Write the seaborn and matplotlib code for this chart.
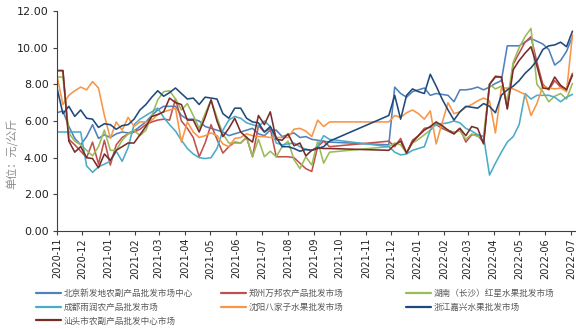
import numpy as np
import pandas as pd
import matplotlib
matplotlib.use("Agg")
import matplotlib.pyplot as plt
import matplotlib.dates as mdates
import seaborn as sns

# ---------------- data ----------------
series_names = [
    "北京新发地农副产品批发市场中心",
    "郑州万邦农产品批发市场",
    "湖南（长沙）红星水果批发市场",
    "成都雨润农产品批发市场",
    "沈阳八家子水果批发市场",
    "浙江嘉兴水果批发市场",
    "汕头市农副产品批发中心市场",
]
colors = ["#4F81BD", "#C0504D", "#9BBB59", "#4BACC6", "#F79646", "#1F497D", "#772C2A"]

# weekly observations; no data between early Oct and end of Nov 2021
week_start = "2020-11-01"
n_weeks = 88
gap_weeks = (47, 56)

beijing = [6.45, 6.55, 5.7, 5.05, 4.7, 5.15, 5.8, 5.05, 5.25, 5.1,
           5.3, 5.4, 5.35, 5.45, 5.7, 5.95, 6.3, 6.6, 6.8, 6.8,
           6.8, 6.3, 6.1, 6.1, 6.0, 5.7, 5.6, 5.5, 5.4, 5.2,
           5.3, 5.4, 5.5, 5.6, 5.3, 5.2, 5.5, 5.5, 5.15, 5.25,
           5.35, 5.1, 5.15, 5.0, 4.95, 4.9, 4.85,
           4.7, 7.85, 7.5, 7.3, 7.6, 7.7, 7.8, 7.4, 7.5, 7.45,
           7.4, 7.05, 7.7, 7.7, 7.75, 7.85, 7.7, 7.85, 8.05, 8.2,
           10.1, 10.1, 10.1, 10.3, 10.5, 10.35, 10.2, 9.9, 9.05, 9.3,
           9.8, 10.6]
zhengzhou = [8.75, 8.75, 5.0, 4.7, 4.35, 4.0, 4.85, 3.65, 4.95, 3.6,
             4.7, 5.1, 5.3, 5.4, 5.55, 5.8, 5.95, 6.05, 6.1, 6.05,
             7.2, 6.0, 5.6, 5.1, 4.05, 4.8, 5.8, 5.0, 4.25, 4.6,
             4.85, 4.8, 5.1, 4.05, 5.75, 5.4, 5.6, 4.05, 4.05, 4.05,
             4.0, 3.7, 3.4, 3.25, 4.6, 4.9, 4.6,
             4.9, 4.6, 5.05, 4.25, 4.95, 5.2, 5.6, 5.65, 5.8, 5.6,
             5.45, 5.3, 5.6, 4.85, 5.25, 5.25, 4.8, 8.0, 8.45, 8.4,
             6.7, 9.1, 9.7, 10.3, 10.6, 9.2, 8.0, 7.7, 8.2, 7.85,
             7.75, 8.6]
hunan = [8.4, 8.4, 5.35, 4.9, 4.7, 4.4, 4.1, 4.6, 5.5, 4.4,
         4.4, 4.95, 5.3, 5.5, 5.2, 5.5, 6.3, 7.15, 7.6, 7.65,
         7.2, 6.6, 6.95, 6.3, 5.6, 6.4, 7.15, 6.2, 5.3, 4.8,
         4.8, 4.8, 5.15, 4.05, 5.0, 4.05, 4.35, 4.05, 4.6, 4.9,
         3.9, 3.4, 4.05, 3.6, 4.9, 3.7, 4.3,
         4.6, 4.8, 4.7, 4.25, 4.8, 5.0, 5.25, 5.5, 5.85, 5.7,
         5.5, 5.4, 5.45, 5.0, 5.3, 5.15, 5.2, 8.0, 7.75, 7.9,
         7.1, 9.2, 10.0, 10.6, 11.05, 8.0, 7.6, 7.05, 7.35, 7.5,
         7.2, 8.05]
chengdu = [5.4, 5.4, 5.4, 5.4, 5.4, 3.55, 3.2, 3.5, 3.65, 3.8,
           4.35, 3.8, 4.55, 5.8, 6.1, 6.3, 6.5, 6.7, 6.2, 5.8,
           5.45, 4.95, 4.5, 4.2, 4.0, 3.95, 4.0, 4.5, 5.5, 6.05,
           6.25, 6.15, 5.9, 5.8, 5.7, 6.0, 5.7, 4.8, 4.7, 4.75,
           4.8, 4.6, 4.45, 4.4, 4.6, 5.2, 5.0,
           4.6, 4.3, 4.15, 4.2, 4.4, 4.5, 4.6, 5.5, 5.85, 5.85,
           5.9, 6.0, 5.9, 5.6, 5.45, 5.25, 5.15, 3.05, 3.7, 4.3,
           4.85, 5.15, 5.8, 7.5, 7.2, 7.4, 7.4, 7.4, 7.3, 7.05,
           7.3, 7.45]
shenyang = [8.45, 6.9, 7.4, 7.65, 7.85, 7.7, 8.15, 7.8, 6.3, 5.05,
            5.95, 5.5, 6.2, 5.7, 5.95, 5.95, 6.05, 6.35, 6.5, 6.6,
            6.7, 4.85, 5.95, 5.4, 5.1, 5.2, 5.35, 5.2, 4.75, 4.6,
            5.05, 5.1, 5.3, 5.2, 5.15, 5.15, 5.1, 5.1, 5.1, 5.1,
            5.55, 5.6, 5.45, 5.15, 6.05, 5.7, 5.95,
            5.95, 6.3, 6.2, 6.45, 6.6, 6.4, 6.1, 6.55, 4.75, 5.9,
            7.0, 6.4, 6.5, 6.75, 6.9, 7.1, 7.25, 7.1, 5.35, 7.8,
            7.8, 7.75, 7.6, 7.45, 6.3, 6.95, 7.9, 7.8, 7.75, 7.8,
            7.6, 10.7]
zhejiang = [7.8, 6.4, 6.8, 6.25, 6.6, 6.15, 6.1, 5.65, 5.85, 5.8,
            5.55, 5.75, 5.8, 6.1, 6.6, 6.9, 7.3, 7.65, 7.35, 7.55,
            7.8, 7.5, 7.2, 7.25, 6.9, 7.3, 7.25, 7.2, 6.4, 6.15,
            6.7, 6.7, 6.15, 5.95, 5.9, 5.4, 5.7, 5.1, 4.6, 4.6,
            4.5, 4.35, 4.45, 4.4, 4.5, 4.6, 4.9,
            6.3, 7.4, 6.1, 7.4, 7.75, 7.6, 7.5, 8.55, 7.9, 7.2,
            6.6, 6.05, 6.5, 6.8, 6.75, 6.7, 6.95, 6.8, 6.45, 7.4,
            7.7, 7.9, 8.2, 8.6, 8.9, 9.3, 9.9, 10.1, 10.15, 10.3,
            10.05, 10.9]
shantou = [8.75, 8.75, 4.9, 4.3, 4.6, 4.0, 3.95, 3.45, 4.2, 3.85,
           4.4, 4.6, 4.8, 4.8, 5.25, 5.7, 6.25, 6.35, 6.5, 7.25,
           7.0, 6.9, 6.05, 6.05, 5.4, 6.2, 7.15, 6.0, 5.15, 5.6,
           6.15, 5.4, 5.1, 4.85, 6.3, 5.8, 6.5, 5.0, 4.95, 5.3,
           4.65, 4.8, 4.1, 4.4, 4.55, 4.5, 4.5,
           4.4, 4.7, 4.9, 4.25, 4.85, 5.2, 5.5, 5.7, 5.95, 5.75,
           5.5, 5.3, 5.6, 5.2, 5.7, 5.6, 4.75, 8.0, 8.4, 8.4,
           6.65, 8.8, 9.3, 9.7, 10.05, 9.0, 7.8, 7.75, 8.4, 7.95,
           7.7, 8.5]

values = [beijing, zhengzhou, hunan, chengdu, shenyang, zhejiang, shantou]

y_ticks = [0, 2, 4, 6, 8, 10, 12]
y_label = "单位：元/公斤"

# ---------------- build table ----------------
all_dates = pd.date_range(week_start, periods=n_weeks, freq="7D")
keep = [i for i in range(n_weeks) if not (gap_weeks[0] <= i < gap_weeks[1])]
dates = all_dates[keep]

frames = []
for name, vals in zip(series_names, values):
    frames.append(pd.DataFrame({"date": dates, "value": vals, "series": name}))
df = pd.concat(frames, ignore_index=True)

# ---------------- plot ----------------
sns.set_style("ticks")
plt.rcParams["font.family"] = ["DejaVu Sans", "Noto Sans CJK SC"]

fig = plt.figure(figsize=(5.76, 3.29), dpi=100)
ax = fig.add_axes([57 / 576, 1 - 231 / 329, (575 - 57) / 576, 220 / 329])

sns.lineplot(data=df, x="date", y="value", hue="series", hue_order=series_names,
             palette=colors, linewidth=1.15, ax=ax, legend=True, sort=True)

handles, labels = ax.get_legend_handles_labels()
ax.get_legend().remove()

ax.set_ylim(0, 12)
ax.set_yticks(y_ticks)
ax.yaxis.set_major_formatter(matplotlib.ticker.FormatStrFormatter("%.2f"))
ax.set_xlim(pd.Timestamp("2020-11-01"), pd.Timestamp("2022-07-06"))
ax.xaxis.set_major_locator(mdates.MonthLocator())
ax.xaxis.set_major_formatter(mdates.DateFormatter("%Y-%m"))
ax.set_xlabel("")
ax.set_ylabel("")
for lab in ax.get_xticklabels():
    lab.set_rotation(90)
ax.tick_params(axis="x", labelsize=7, length=3, width=0.8, colors="#404040",
               labelcolor="#222222", pad=2)
ax.tick_params(axis="y", labelsize=8, length=3, width=0.8, colors="#404040",
               labelcolor="#222222", pad=3)
for s in ["top", "right"]:
    ax.spines[s].set_visible(False)
for s in ["left", "bottom"]:
    ax.spines[s].set_color("#404040")
    ax.spines[s].set_linewidth(0.8)

fig.text(12 / 576, 1 - 153 / 329, y_label, rotation=90, ha="center", va="center",
         fontsize=8, color="#8c8c8c", family=["Noto Sans CJK SC", "DejaVu Sans"])

# legend in three columns placed like the reference
col_x = [36 / 576, 221 / 576, 406 / 576]
label_map = dict(zip(labels, handles))
for c in range(3):
    names = series_names[c::3]
    hs = [label_map[n] for n in names]
    leg = fig.legend(hs, names, loc="upper left", bbox_to_anchor=(col_x[c], 1 - 289 / 329),
                     frameon=False, handlelength=2.9, handletextpad=0.35,
                     labelspacing=0.55, borderpad=0, borderaxespad=0,
                     prop={"family": ["Noto Sans CJK SC", "DejaVu Sans"], "size": 6.2})
    for t in leg.get_texts():
        t.set_color("#595959")
    for l in leg.get_lines():
        l.set_linewidth(1.6)

fig.savefig("out.png", dpi=100)
